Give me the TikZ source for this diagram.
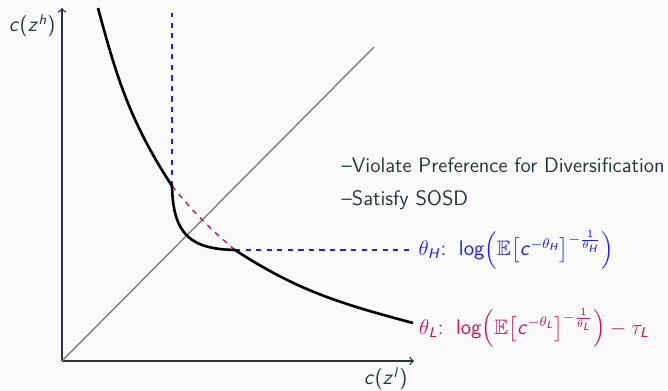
\documentclass[tikz,border=0pt]{standalone}
\definecolor{darkteal}{RGB}{35,55,59}
\definecolor{bggray}{RGB}{250,250,250}
\definecolor{hiblue}{RGB}{30,30,240}
\definecolor{lored}{RGB}{200,20,90}
\usepackage{amsmath}
\usepackage{amssymb}
\usepackage{tikz}
\usetikzlibrary{positioning}
% sans letters in math
\DeclareSymbolFont{sfletters}{OT1}{cmss}{m}{sl}
\SetSymbolFont{operators}{normal}{OT1}{cmss}{m}{n}
\DeclareMathSymbol{c}{\mathalpha}{sfletters}{`c}
\DeclareMathSymbol{z}{\mathalpha}{sfletters}{`z}
\DeclareMathSymbol{h}{\mathalpha}{sfletters}{`h}
\DeclareMathSymbol{l}{\mathalpha}{sfletters}{`l}
\DeclareMathSymbol{H}{\mathalpha}{sfletters}{`H}
\DeclareMathSymbol{L}{\mathalpha}{sfletters}{`L}

\begin{document}
\begin{tikzpicture}[font=\sffamily\fontsize{11.9}{14}\selectfont, darkteal]
    \useasboundingbox[fill=bggray] (-1.24,-0.6) rectangle (12.12,7.22);
    \coordinate (O) at (0,0);
    \coordinate (xend) at (7.04,0);
    \coordinate (yend) at (0,7.06);
    \coordinate (diag) at (6.24,6.28);
    \coordinate (top) at (0.72,7.06);
    \coordinate (kinkH) at (2.2,3.5);
    \coordinate (kinkL) at (3.46,2.22);
    \coordinate (bottom) at (7.02,0.76);
    \coordinate (vtop) at (2.2,6.96);
    \coordinate (hend) at (7.0,2.22);
    
    \draw[->, thick] (O) -- (xend) node[below left] (xlab) {$c(z^l)$};
    \draw[->, thick] (O) -- (yend) node[below left] (ylab) {$c(z^h)$};
    \draw[gray, thick] (O) -- (diag);
    
    \draw[hiblue, dashed, thick] (kinkH) -- (vtop);
    \draw[hiblue, dashed, thick] (kinkL) -- (hend)
        node[right] (thetaH) {$\theta_H$:\hspace{0.6em}$\log\mathopen{}\left(\mathbb{E}\bigl[c^{-\theta_H}\bigr]^{-\frac{1}{\theta_H}}\right)$};
    \draw[lored, dashed, thick] (kinkH) to[bend right=5] (kinkL);
    
    \draw[black, line width=1.5pt] (top) to[out=-75,in=123] (kinkH)
        .. controls (2.22,2.5) and (2.6,2.24) .. (kinkL)
        to[out=-33,in=165] (bottom);
    \node[right, lored, yshift=-3pt] (thetaL) at (bottom) {$\theta_L$:\hspace{0.6em}$\log\mathopen{}\left(\mathbb{E}\bigl[c^{-\theta_L}\bigr]^{-\frac{1}{\theta_L}}\right)-\tau_L$};
    
    \node[right] (violate) at (5.47,3.92) {--Violate Preference for Diversification};
    \node[right] (satisfy) at (5.47,3.22) {--Satisfy SOSD};
\end{tikzpicture}
\end{document}
